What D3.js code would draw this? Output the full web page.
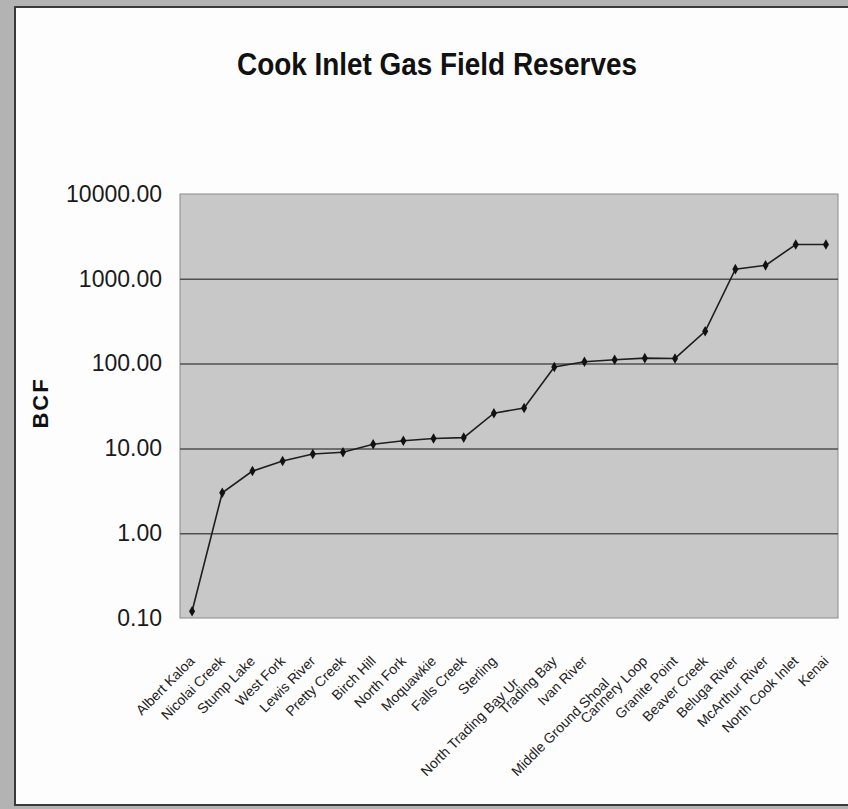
<!DOCTYPE html>
<html>
<head>
<meta charset="utf-8">
<script src="https://cdn.jsdelivr.net/npm/d3@7"></script>
<style>
body { margin: 0; background: #b3b3b3; }
</style>
</head>
<body>
<svg id="chart" width="848" height="809"></svg>
<script>
// gas fields, smallest to largest
var fields = ["Albert Kaloa", "Nicolai Creek", "Stump Lake", "West Fork", "Lewis River",
  "Pretty Creek", "Birch Hill", "North Fork", "Moquawkie", "Falls Creek", "Sterling",
  "North Trading Bay Ur", "Trading Bay", "Ivan River", "Middle Ground Shoal", "Cannery Loop",
  "Granite Point", "Beaver Creek", "Beluga River", "McArthur River", "North Cook Inlet", "Kenai"];
// reserves in BCF
var reserves = [0.12, 3.0, 5.4, 7.1, 8.6, 9.0, 11.2, 12.3, 13.1, 13.4, 26,
  30, 91, 105, 111, 116, 115, 240, 1300, 1440, 2540, 2540];
var yTicks = [0.1, 1, 10, 100, 1000, 10000];
var titleText = "Cook Inlet Gas Field Reserves";
var yTitle = "BCF";

var svg = d3.select("#chart");

// white sheet with frame
svg.append("rect")
  .attr("x", 15).attr("y", 7)
  .attr("width", 850).attr("height", 798)
  .attr("fill", "#fdfdfd")
  .attr("stroke", "#3a3a3a")
  .attr("stroke-width", 2);

var plotL = 180, plotR = 838, plotT = 194, plotB = 618;

var x = d3.scalePoint().domain(fields).range([plotL, plotR]).padding(0.4);
var y = d3.scaleLog().domain([0.1, 10000]).range([plotB, plotT]);

// plot area
svg.append("rect")
  .attr("x", plotL).attr("y", plotT)
  .attr("width", plotR - plotL).attr("height", plotB - plotT)
  .attr("fill", "#c8c8c8")
  .attr("stroke", "#8a8a8a")
  .attr("stroke-width", 1);

// gridlines
svg.append("g")
  .attr("transform", "translate(" + plotL + ",0)")
  .call(d3.axisLeft(y).tickValues(yTicks.slice(1, -1)).tickSize(-(plotR - plotL)).tickFormat(""))
  .call(function(g) { g.select(".domain").remove(); })
  .selectAll("line")
  .attr("stroke", "#505050")
  .attr("stroke-width", 1.5);

// y labels
svg.append("g")
  .attr("transform", "translate(" + plotL + ",0)")
  .call(d3.axisLeft(y).tickValues(yTicks).tickSize(0).tickPadding(18).tickFormat(d3.format(".2f")))
  .call(function(g) { g.select(".domain").remove(); })
  .selectAll("text")
  .attr("font-family", "'Liberation Sans', Arial, sans-serif")
  .attr("font-size", "23px")
  .attr("fill", "#1a1a1a");

// x labels, rotated
svg.append("g")
  .attr("transform", "translate(0," + plotB + ")")
  .call(d3.axisBottom(x).tickSize(0))
  .call(function(g) { g.select(".domain").remove(); })
  .selectAll("text")
  .attr("font-family", "'Liberation Sans', Arial, sans-serif")
  .attr("font-size", "14px")
  .attr("fill", "#222")
  .attr("text-anchor", "end")
  .attr("x", 0).attr("y", 0).attr("dy", 0)
  .attr("transform", function() {
    var w = this.getComputedTextLength();
    var shift = w > 120 ? 1 : 0; // long names sit lower
    return "translate(" + (3 - 8 * shift) + "," + (44 + 22 * shift) + ") rotate(-45)";
  });

// line
var line = d3.line()
  .x(function(d, i) { return x(fields[i]); })
  .y(function(d) { return y(d); });

svg.append("path")
  .datum(reserves)
  .attr("d", line)
  .attr("fill", "none")
  .attr("stroke", "#1e1e1e")
  .attr("stroke-width", 1.6);

svg.selectAll(".pt")
  .data(reserves)
  .enter()
  .append("path")
  .attr("class", "pt")
  .attr("d", d3.symbol().type(d3.symbolDiamond).size(32))
  .attr("transform", function(d, i) { return "translate(" + x(fields[i]) + "," + y(d) + ")"; })
  .attr("fill", "#111");

// title (narrow bold)
svg.append("text")
  .attr("x", 437).attr("y", 75)
  .attr("text-anchor", "middle")
  .attr("font-family", "'Liberation Sans', Arial, sans-serif")
  .attr("font-weight", "bold")
  .attr("font-size", "32px")
  .attr("textLength", 400)
  .attr("lengthAdjust", "spacingAndGlyphs")
  .attr("fill", "#111")
  .text(titleText);

// axis title
svg.append("text")
  .attr("transform", "translate(48,403) rotate(-90)")
  .attr("text-anchor", "middle")
  .attr("font-family", "'Liberation Sans', Arial, sans-serif")
  .attr("font-weight", "bold")
  .attr("font-size", "22px")
  .attr("letter-spacing", "2px")
  .attr("fill", "#111")
  .text(yTitle);
</script>
</body>
</html>
